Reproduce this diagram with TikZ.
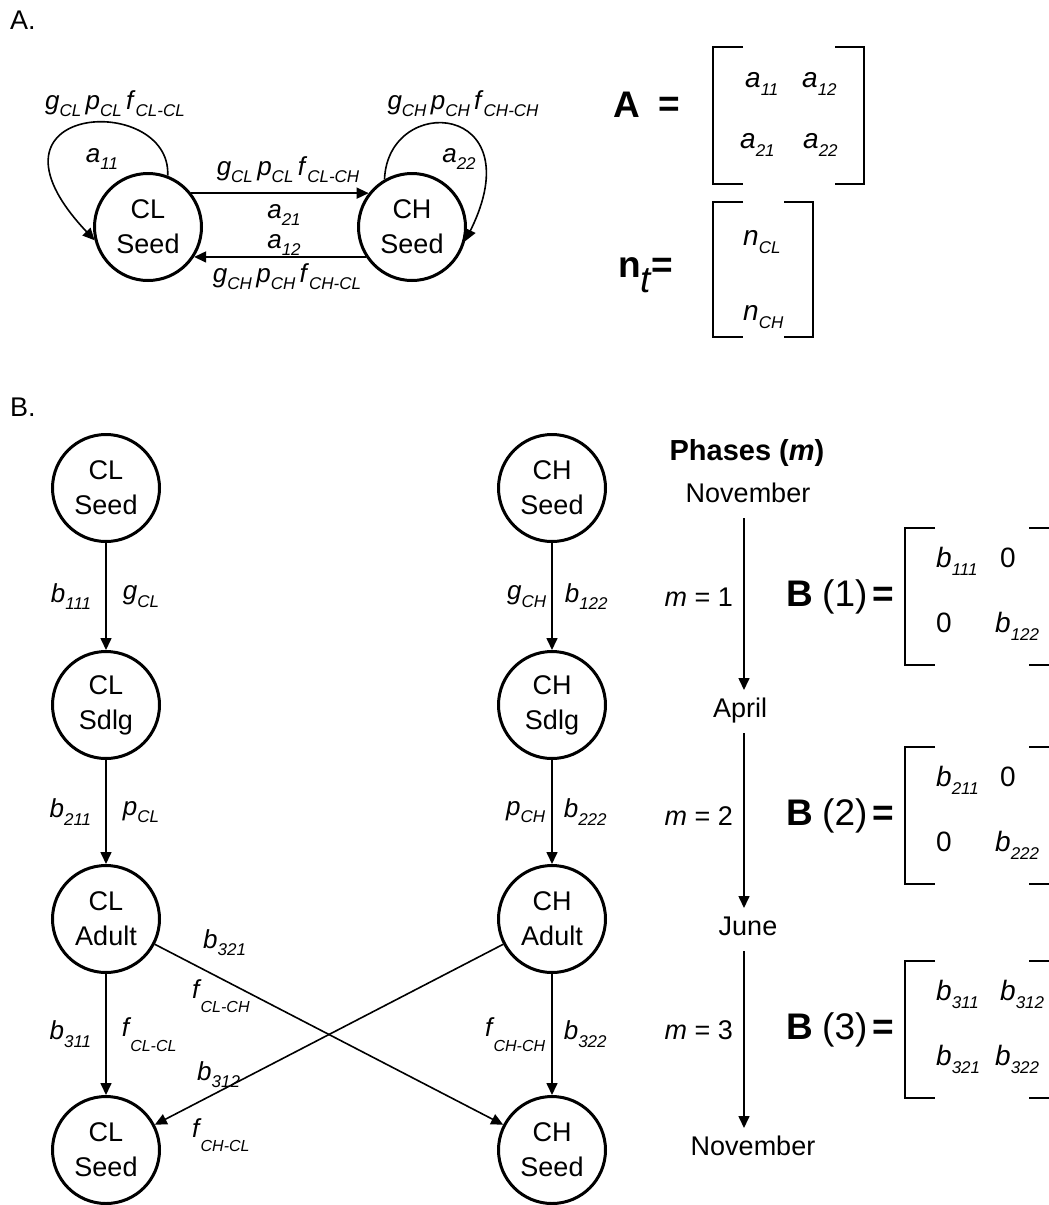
\documentclass[tikz,border=0pt]{standalone}
\usepackage{fontspec}
\setmainfont{Liberation Sans}
\usetikzlibrary{arrows.meta,calc}
\tikzset{
  state/.style={circle, draw, line width=3pt, minimum size=107pt, inner sep=0pt,
    align=center, font=\fontsize{27}{35}\selectfont},
  arr/.style={-{Triangle[length=12pt,width=11pt]}, line width=1.6pt},
  brk/.style={line width=2pt},
  lbl/.style={inner sep=0pt, font=\fontsize{26}{30}\selectfont},
  ent/.style={inner sep=0pt, anchor=base west, font=\fontsize{28}{30}\selectfont},
  month/.style={font=\fontsize{27}{30}\selectfont, text height=19pt, text depth=8pt,
    inner sep=0pt, outer sep=8pt, anchor=base},
  big/.style={inner sep=0pt, font=\fontsize{37}{40}\selectfont\bfseries},
}
\newcommand{\vsub}[2]{\textit{#1}\raisebox{-0.3em}{\fontsize{17}{17}\selectfont\textit{#2}}}
\newcommand{\fsub}[1]{\textit{f}\kern-1pt\raisebox{-0.55em}{\fontsize{16}{16}\selectfont\textit{#1}}}
% left x, right x, top y, bottom y
\newcommand{\matbrk}[4]{%
  \draw[brk] (#1+30,#3) -- (#1,#3) -- (#1,#4) -- (#1+30,#4);
  \draw[brk] (#2-29,#3) -- (#2,#3) -- (#2,#4) -- (#2-29,#4);
}

\begin{document}
\begin{tikzpicture}[x=1pt, y=-1pt]
  \useasboundingbox (0,0) rectangle (1049,1205);
  \node[lbl, font=\fontsize{27}{30}\selectfont, anchor=base west] (panA) at (10,29) {A.};
  \node[lbl, font=\fontsize{27}{30}\selectfont, anchor=base west] (panB) at (10,416) {B.};

  % A: two-state model
  \node[state] (clA) at (148,227) {CL\\Seed};
  \node[state] (chA) at (412,227) {CH\\Seed};
  \draw[arr] (clA.38) -- (chA.142);
  \draw[arr] (chA.-147) -- (clA.-33);
  \draw[arr] (clA.69) .. controls +(4,-84) and +(-130,-138) .. (clA.194);
  \draw[arr] (chA.120) .. controls +(3.5,-87) and +(69,-139) .. (chA.-15);
  \node[lbl, anchor=base] (lclcl) at (115,109) {\vsub{g}{CL}\,\vsub{p}{CL}\,\vsub{f}{CL-CL}};
  \node[lbl, anchor=base] (lchch) at (463,109) {\vsub{g}{CH}\,\vsub{p}{CH}\,\vsub{f}{CH-CH}};
  \node[lbl, anchor=base] (a11l) at (102,162) {\vsub{a}{11}};
  \node[lbl, anchor=base] (a22l) at (459,162) {\vsub{a}{22}};
  \node[lbl, anchor=base] (lclch) at (288,175) {\vsub{g}{CL}\,\vsub{p}{CL}\,\vsub{f}{CL-CH}};
  \node[lbl, anchor=base] (a21l) at (284,218) {\vsub{a}{21}};
  \node[lbl, anchor=base] (a12l) at (284,248) {\vsub{a}{12}};
  \node[lbl, anchor=base] (lchcl) at (287,282) {\vsub{g}{CH}\,\vsub{p}{CH}\,\vsub{f}{CH-CL}};

  % A: matrix and vector
  \node[big] (Asym) at (627,105) {A};
  \node[big] (Aeq) at (669,107) {=};
  \matbrk{713}{864}{47}{184}
  \node[ent] (a11) at (745,87) {\vsub{a}{11}};
  \node[ent] (a12) at (802,87) {\vsub{a}{12}};
  \node[ent] (a21) at (740,148) {\vsub{a}{21}};
  \node[ent] (a22) at (803,148) {\vsub{a}{22}};
  \node[big, anchor=base west] (nt) at (618,277) {n\raisebox{-0.42em}{\mdseries\itshape t}=};
  \matbrk{713}{813}{202}{337}
  \node[ent] (nCL) at (743,245) {\vsub{n}{CL}};
  \node[ent] (nCH) at (743,320) {\vsub{n}{CH}};

  % B: life cycle
  \node[state] (clS1) at (106,488) {CL\\Seed};
  \node[state] (clSd) at (106,705) {CL\\Sdlg};
  \node[state] (clAd) at (106,919) {CL\\Adult};
  \node[state] (clS2) at (106,1150) {CL\\Seed};
  \node[state] (chS1) at (552,488) {CH\\Seed};
  \node[state] (chSd) at (552,705) {CH\\Sdlg};
  \node[state] (chAd) at (552,919) {CH\\Adult};
  \node[state] (chS2) at (552,1150) {CH\\Seed};

  \draw[arr] (clS1) -- (clSd)
    node[lbl, midway, left=14pt] (b111) {\vsub{b}{111}}
    node[lbl, midway, right=16pt] (gCL) {\vsub{g}{CL}};
  \draw[arr] (clSd) -- (clAd)
    node[lbl, midway, left=14pt] (b211) {\vsub{b}{211}}
    node[lbl, midway, right=16pt] (pCL) {\vsub{p}{CL}};
  \draw[arr] (clAd) -- (clS2)
    node[lbl, midway, left=14pt] (b311) {\vsub{b}{311}}
    node[lbl, midway, right=15pt] (fCLCL) {\fsub{CL-CL}};
  \draw[arr] (chS1) -- (chSd)
    node[lbl, midway, left=5pt] (gCH) {\vsub{g}{CH}}
    node[lbl, midway, right=12pt] (b122) {\vsub{b}{122}};
  \draw[arr] (chSd) -- (chAd)
    node[lbl, midway, left=6pt] (pCH) {\vsub{p}{CH}}
    node[lbl, midway, right=11pt] (b222) {\vsub{b}{222}};
  \draw[arr] (chAd) -- (chS2)
    node[lbl, midway, left=6pt] (fCHCH) {\fsub{CH-CH}}
    node[lbl, midway, right=11pt] (b322) {\vsub{b}{322}};
  \draw[arr] (clAd) -- (chS2);
  \draw[arr] (chAd) -- (clS2);
  \node[lbl, anchor=base west] (b321) at (203,948) {\vsub{b}{321}};
  \node[lbl, anchor=base west] (fCLCH) at (192,998) {\fsub{CL-CH}};
  \node[lbl, anchor=base west] (b312) at (197,1080) {\vsub{b}{312}};
  \node[lbl, anchor=base west] (fCHCL) at (192,1137) {\fsub{CH-CL}};

  % B: phases
  \coordinate (tl) at (744,0);
  \node[inner sep=0pt, anchor=base, font=\fontsize{29}{32}\selectfont\bfseries] (ph)
    at (747,460) {Phases (\textit{m})};
  \node[month] (nov1) at (748,502) {November};
  \node[month] (apr) at (740,717) {April};
  \node[month] (jun) at (748,935) {June};
  \node[month] (nov2) at (753,1155) {November};
  \foreach \a/\b in {nov1/apr, apr/jun, jun/nov2}
    \draw[arr] (\a.south -| tl) -- (\b.north -| tl);

  \foreach \k/\yt/\ea/\eb/\ec/\ed in {
      1/528/{\vsub{b}{111}}/0/0/{\vsub{b}{122}},
      2/747/{\vsub{b}{211}}/0/0/{\vsub{b}{222}},
      3/961/{\vsub{b}{311}}/{\vsub{b}{312}}/{\vsub{b}{321}}/{\vsub{b}{322}}} {
    \node[lbl, anchor=base east, font=\fontsize{27}{30}\selectfont] (m\k) at (733,\yt+78) {\textit{m} = \k};
    \node[big, anchor=base west] (B\k) at (786,\yt+78) {B};
    \node[inner sep=0pt, anchor=base west, font=\fontsize{37}{40}\selectfont] (Bk\k) at (822,\yt+78) {(\k)};
    \node[big, anchor=base east] (Beq\k) at (894,\yt+78) {=};
    \matbrk{905}{1058}{\yt}{\yt+137}
    \node[ent] (e\k a) at (936,\yt+39) {\ea};
    \node[ent] (e\k b) at (1000,\yt+39) {\eb};
    \node[ent] (e\k c) at (936,\yt+104) {\ec};
    \node[ent] (e\k d) at (995,\yt+104) {\ed};
  }
\end{tikzpicture}
\end{document}
